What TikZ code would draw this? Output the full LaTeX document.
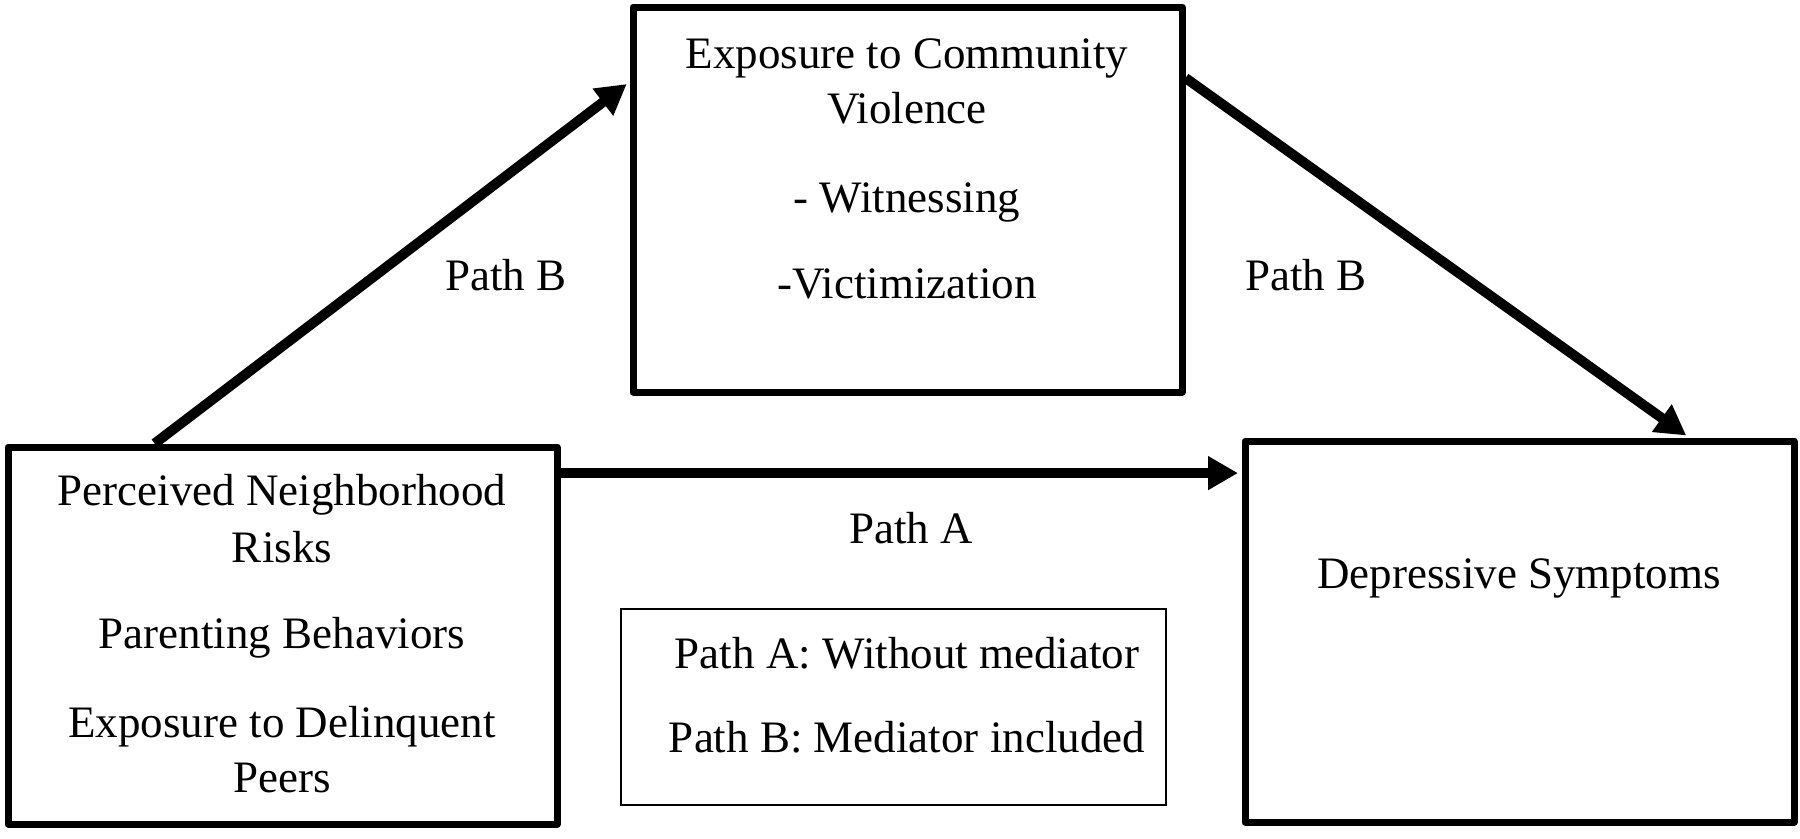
\documentclass[tikz,border=0pt]{standalone}
\usepackage{fontspec}
\setmainfont{Liberation Serif}
\usepackage{tikz}
\usetikzlibrary{positioning, arrows.meta, calc}
\tikzset{
  box/.style={rectangle, draw=black, line width=0.7mm, line join=round,
    minimum width=54.9mm, inner sep=0pt},
  legendbox/.style={rectangle, draw=black, line width=0.25mm,
    minimum width=54.5mm, minimum height=19.6mm, inner sep=0pt},
  boxtext/.style={font=\fontsize{12.8}{15.4}\selectfont, anchor=base,
    inner sep=0pt},
  pathlabel/.style={boxtext},
  patharrow/.style={-{Triangle[length=3mm, width=3.2mm]}, line width=1mm,
    shorten >=0.35mm},
}

\begin{document}
\begin{tikzpicture}[x=0.1mm, y=-0.1mm]
    \useasboundingbox (0,0) rectangle (1800,838);
    % ---------------- boxes ----------------
    \node[box, minimum height=38.5mm] (cv) at (907.5,199.5) {};
    \node[box, minimum height=37.7mm] (risk) at (282.5,635.5) {};
    \node[box, minimum height=38.1mm] (dep) at (1519.5,631.5) {};
    \node[legendbox] (legend) at (893.5,707) {};
    % mediator
    \foreach \txt/\yy [count=\i] in {Exposure to Community/68, Violence/123,
                                     - Witnessing/212, -Victimization/298}
      \node[boxtext] (cv-\i) at (907,\yy) {\txt};
    % predictors
    \foreach \txt/\yy [count=\i] in {Perceived Neighborhood/505, Risks/562,
                                     Parenting Behaviors/648,
                                     Exposure to Delinquent/737, Peers/792}
      \node[boxtext] (risk-\i) at (282,\yy) {\txt};
    % outcome
    \node[boxtext] (dep-1) at (1519,588) {Depressive Symptoms};
    % legend
    \foreach \txt/\yy [count=\i] in {Path A: Without mediator/668,
                                     Path B: Mediator included/752}
      \node[boxtext] (legend-\i) at (907,\yy) {\txt};
    % ---------------- paths ----------------
    \coordinate (pathAstart) at ($(risk.north east)!0.077!(risk.south east)$);
    \draw[patharrow] ($(risk.north west)!0.27!(risk.north east)$)
      -- ($(cv.north west)!0.2!(cv.south west)$);
    \draw[patharrow] ($(cv.north east)!0.19!(cv.south east)$)
      -- ($(dep.north west)!0.805!(dep.north east)$);
    \draw[patharrow] (pathAstart) -- (pathAstart -| dep.west);
    \node[pathlabel] (labelB1) at (506,290) {Path B};
    \node[pathlabel] (labelB2) at (1306,290) {Path B};
    \node[pathlabel] (labelA) at (911,543) {Path A};
\end{tikzpicture}
\end{document}
